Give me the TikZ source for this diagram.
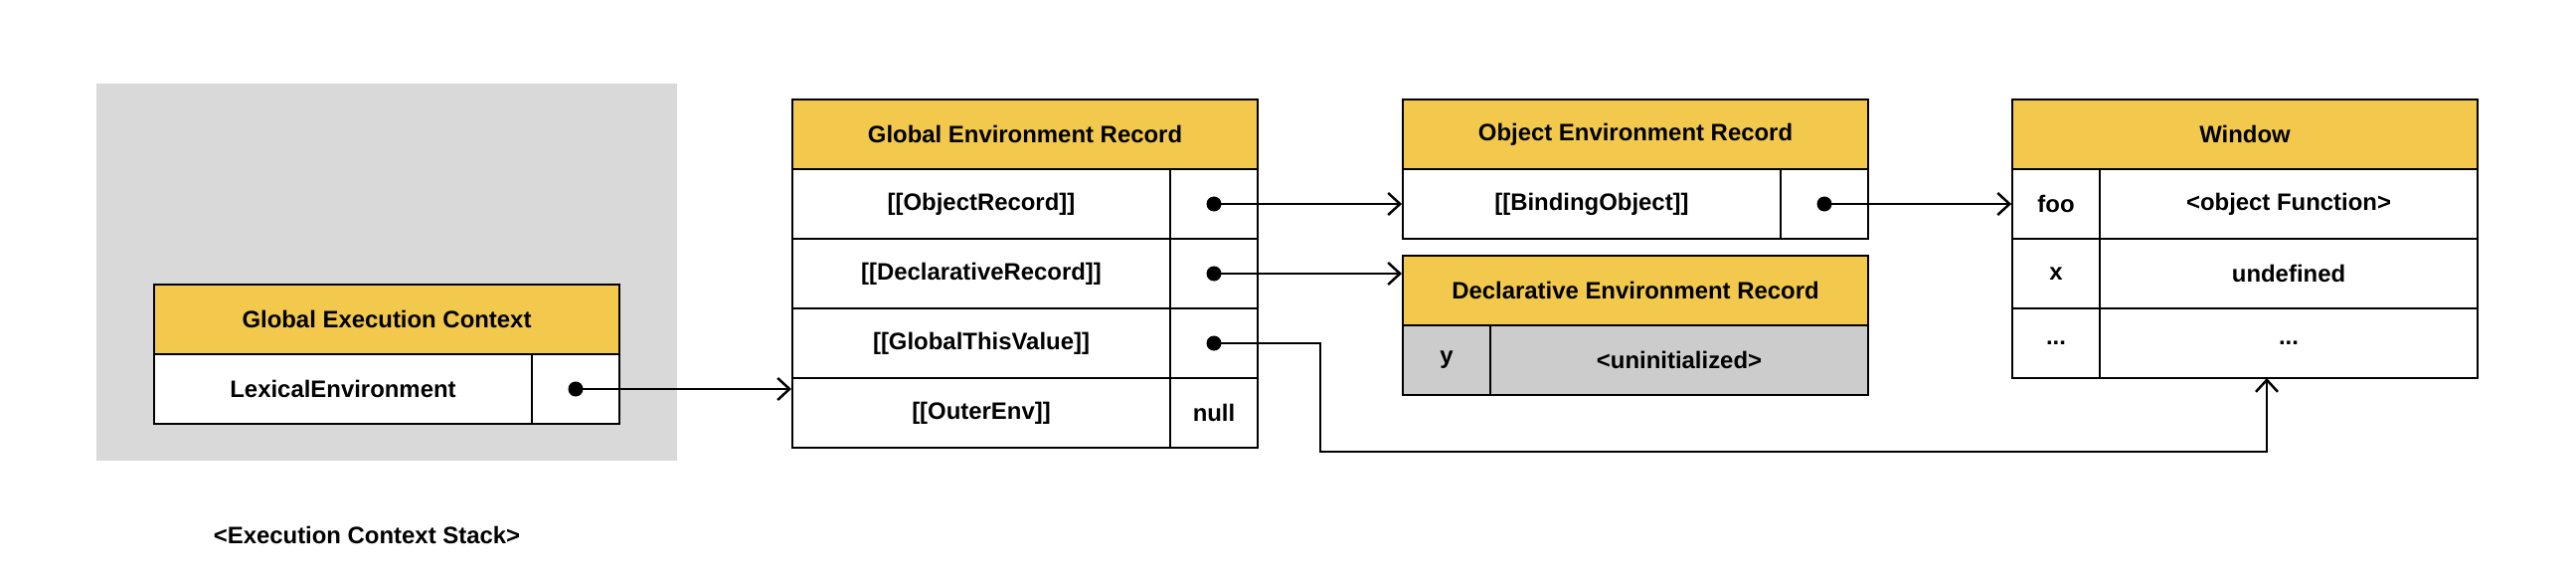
\documentclass[tikz,border=0pt]{standalone}
\usepackage{fontspec}
\setmainfont{Liberation Sans}
\usetikzlibrary{arrows.meta}

\definecolor{hdryellow}{HTML}{F2C94C}
\definecolor{stackgray}{HTML}{D9D9D9}
\definecolor{uninitgray}{HTML}{CCCCCC}

\tikzset{
  cell/.style={draw, line width=0.5pt, fill=white, inner sep=0pt,
    minimum height=0.70cm, font=\fontsize{6.8}{8}\selectfont\bfseries},
  hdr/.style={cell, fill=hdryellow, minimum width=4.68cm},
  wide/.style={cell, minimum width=3.80cm},
  narrow/.style={cell, minimum width=0.88cm},
  ptr/.style={line width=0.7pt, -{Straight Barb[length=1.2mm, width=2.2mm]}},
  dot/.style={circle, fill, inner sep=0pt, minimum size=1.5mm}
}

\begin{document}
\begin{tikzpicture}[x=0.01cm, y=-0.01cm]
        \useasboundingbox (0,0) rectangle (2591,591);

        % execution context stack
        \fill[stackgray] (97,84) rectangle (681,463);
        \node[hdr] (gec) at (389,321) {Global Execution Context};
        \node[wide] (lexenv) at (345,391) {LexicalEnvironment};
        \node[narrow] (lexptr) at (579,391) {};
        \node[font=\fontsize{6.8}{8}\selectfont\bfseries] (stack) at (369,538) {<Execution Context Stack>};

        % global environment record
        \node[hdr] (ger) at (1031,135) {Global Environment Record};
        \node[wide] (objrec) at (987,205) {[[ObjectRecord]]};
        \node[narrow] (objptr) at (1221,205) {};
        \node[wide] (declrec) at (987,275) {[[DeclarativeRecord]]};
        \node[narrow] (declptr) at (1221,275) {};
        \node[wide] (thisval) at (987,345) {[[GlobalThisValue]]};
        \node[narrow] (thisptr) at (1221,345) {};
        \node[wide] (outer) at (987,415) {[[OuterEnv]]};
        \node[narrow] (outerval) at (1221,415) {null};

        % object environment record
        \node[hdr] (oer) at (1645,135) {Object Environment Record};
        \node[wide] (binding) at (1601,205) {[[BindingObject]]};
        \node[narrow] (bindptr) at (1835,205) {};

        % declarative environment record
        \node[hdr] (der) at (1645,292) {Declarative Environment Record};
        \node[narrow, fill=uninitgray] (ykey) at (1455,362) {y};
        \node[wide, fill=uninitgray] (yval) at (1689,362) {<uninitialized>};

        % window
        \node[hdr] (win) at (2258,135) {Window};
        \node[narrow] (fookey) at (2068,205) {foo};
        \node[wide] (fooval) at (2302,205) {<object Function>};
        \node[narrow] (xkey) at (2068,275) {x};
        \node[wide] (xval) at (2302,275) {undefined};
        \node[narrow] (morekey) at (2068,345) {...};
        \node[wide] (moreval) at (2302,345) {...};

        \coordinate (bend) at (1328,454);
        \coordinate (winin) at (2280,380);

        \draw[ptr] (lexptr.center) -- (lexptr.center -| ger.west);
        \draw[ptr] (objptr.center) -- (objptr.center -| binding.west);
        \draw[ptr] (declptr.center) -- (declptr.center -| der.west);
        \draw[ptr] (thisptr.center) -| (bend) -| (winin);
        \draw[ptr] (bindptr.center) -- (bindptr.center -| fookey.west);

        \foreach \p in {lexptr, objptr, declptr, thisptr, bindptr}
            \node[dot] at (\p.center) {};
    \end{tikzpicture}
\end{document}
